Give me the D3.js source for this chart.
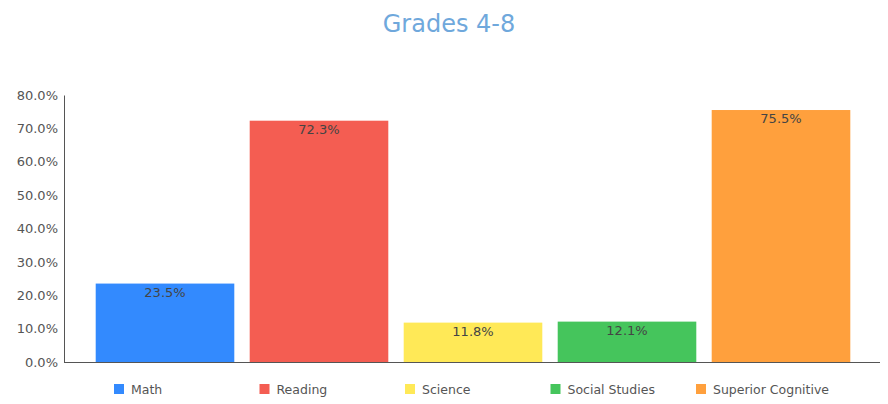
<!DOCTYPE html>
<html><head><meta charset="utf-8">
<script src="https://cdn.jsdelivr.net/npm/d3@7"></script>
<style>body{margin:0;background:#fff}svg{display:block}</style>
</head><body>
<script>
const categories = ["Math","Reading","Science","Social Studies","Superior Cognitive"];
const values = [23.5, 72.3, 11.8, 12.1, 75.5];
const colors = ["#338afe","#f45d52","#ffe957","#45c55c","#ffa03d"];
const yTicks = [0,10,20,30,40,50,60,70,80];
const title = "Grades 4-8";

const W=888,H=404;
const font="Tahoma, 'DejaVu Sans', Verdana, sans-serif";
const svg=d3.select("body").append("svg").attr("width",W).attr("height",H);
const x=d3.scaleBand().domain(categories).range([88,858]).paddingInner(0.1).paddingOuter(0.05);
const y=d3.scaleLinear().domain([0,80]).range([362,95]);

svg.append("text").attr("x",449).attr("y",32).attr("text-anchor","middle")
  .attr("font-family",font).attr("font-size",24).attr("fill","#6fa8dc").text(title);

const ya=svg.append("g").attr("transform","translate(64,0)")
  .call(d3.axisLeft(y).tickValues(yTicks).tickSize(0).tickPadding(6).tickFormat(d=>d.toFixed(1)+"%"));
ya.select(".domain").attr("stroke","#555");
ya.selectAll("text").attr("font-family",font).attr("font-size",13).attr("fill","#555");

svg.append("g").selectAll("rect").data(values).join("rect")
  .attr("x",(d,i)=>x(categories[i])).attr("width",x.bandwidth())
  .attr("y",d=>y(d)).attr("height",d=>y(0)-y(d)).attr("fill",(d,i)=>colors[i]);

svg.append("line").attr("x1",64).attr("x2",880).attr("y1",362.5).attr("y2",362.5).attr("stroke","#555");

svg.append("g").selectAll("text").data(values).join("text")
  .attr("x",(d,i)=>x(categories[i])+x.bandwidth()/2).attr("y",d=>y(d)+13)
  .attr("text-anchor","middle").attr("font-family",font).attr("font-size",13).attr("fill","#444")
  .text(d=>d.toFixed(1)+"%");

const lg=svg.append("g").selectAll("g").data(categories).join("g")
  .attr("transform",(d,i)=>`translate(${114+i*145.5},384)`);
lg.append("rect").attr("width",10).attr("height",10).attr("fill",(d,i)=>colors[i]);
lg.append("text").attr("x",17).attr("y",10).attr("font-family",font).attr("font-size",12.5).attr("fill","#555").text(d=>d);
</script>
</body></html>
